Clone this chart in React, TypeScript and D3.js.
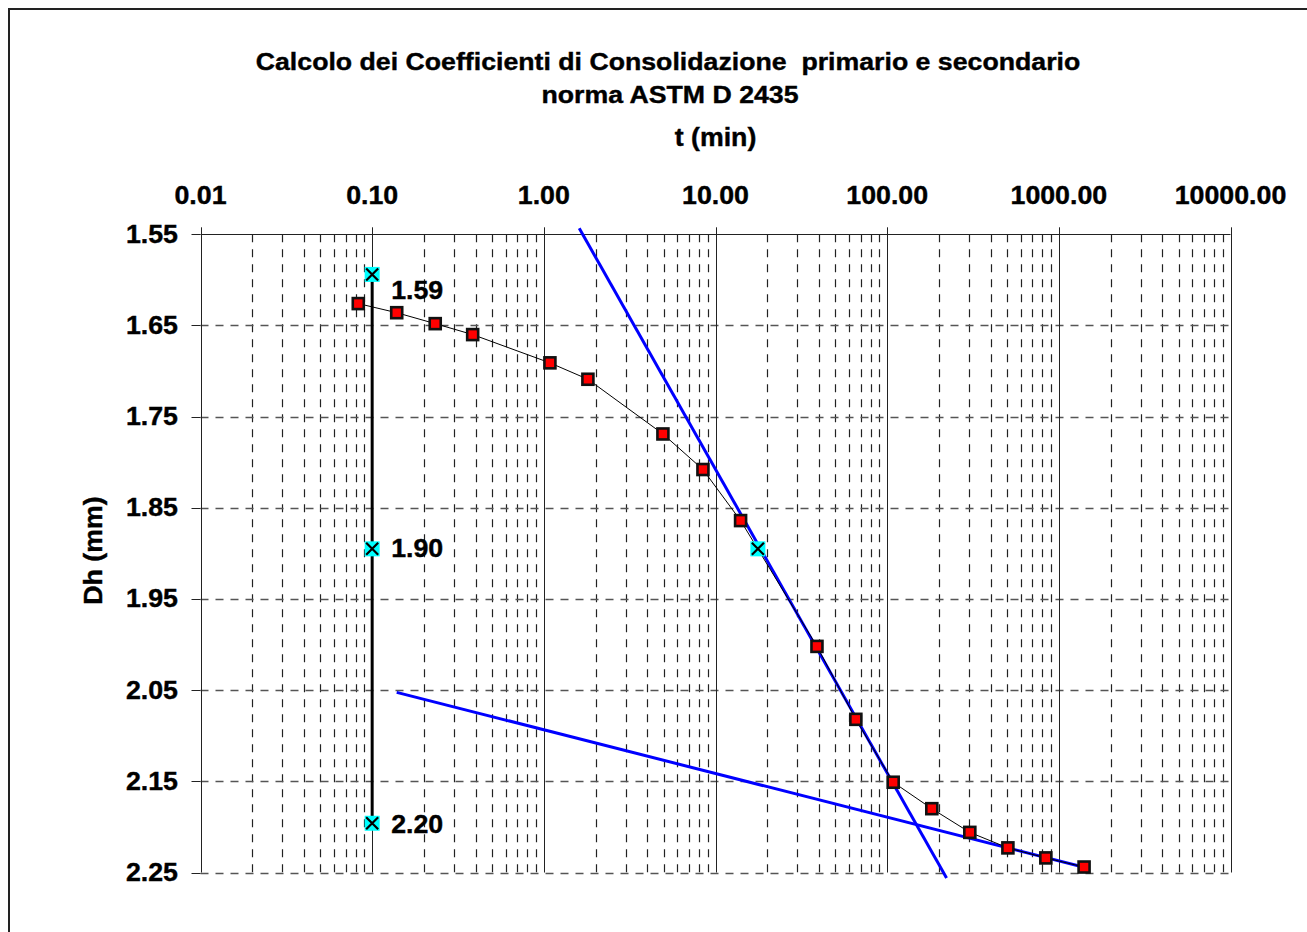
import { useEffect, useRef } from "react";
import * as d3 from "d3";

// elapsed time (min) and settlement Dh (mm)
const timeMin = [0.083, 0.139, 0.233, 0.385, 1.085, 1.806, 4.94, 8.45, 14.0, 39.0, 65.7, 108.4, 182, 303, 505, 840, 1403];
const dhMm = [1.626, 1.636, 1.648, 1.66, 1.691, 1.709, 1.769, 1.808, 1.864, 2.002, 2.082, 2.151, 2.18, 2.206, 2.223, 2.234, 2.244];

// Casagrande construction points: D0, D50, D100 at t = 0.1, and t50
const casaTime = [0.1, 0.1, 0.1, 17.66];
const casaDh = [1.594, 1.895, 2.196, 1.895];
const casaLabels = ["1.59", "1.90", "2.20"];

// tangent lines (primary and secondary consolidation)
const primaryT = [1.608, 221.8];
const primaryD = [1.5434, 2.256];
const secondaryT = [0.139, 1403];
const secondaryD = [2.0524, 2.2443];

const xTicks = [0.01, 0.1, 1, 10, 100, 1000, 10000];
const yTicks = [1.55, 1.65, 1.75, 1.85, 1.95, 2.05, 2.15, 2.25];

const W = 1307;
const H = 932;
const FONT = "Arial, 'Liberation Sans', sans-serif";
const STRETCH = 1.07;

const App: React.FC = () => {
  const ref = useRef<SVGSVGElement>(null);

  useEffect(() => {
    if (!ref.current) return;
    const svg = d3.select(ref.current);
    svg.selectAll("*").remove();

    const x = d3.scaleLog().domain([0.01, 10000]).range([200.5, 1230.5]);
    const y = d3.scaleLinear().domain([1.55, 2.25]).range([234.3, 872.5]);
    const [x0, x1] = x.range();
    const [y0, y1] = y.range();

    const label = (
      tx: number,
      ty: number,
      txt: string,
      anchor: string,
      size = 25,
      rotate = 0,
      stretch = STRETCH
    ) =>
      svg
        .append("text")
        .attr("transform", `translate(${tx},${ty}) rotate(${rotate}) scale(${stretch},1)`)
        .attr("text-anchor", anchor)
        .style("font-family", FONT)
        .style("font-size", size + "px")
        .style("font-weight", "bold")
        .style("white-space", "pre")
        .attr("fill", "#000")
        .attr("stroke", "#000")
        .attr("stroke-width", 0.4)
        .text(txt);

    // outer frame
    svg
      .append("rect")
      .attr("x", 9)
      .attr("y", 9)
      .attr("width", W + 20)
      .attr("height", H + 20)
      .attr("fill", "#fff")
      .attr("stroke", "#222")
      .attr("stroke-width", 2);

    // minor vertical grid (2..9 of each decade)
    const minor: number[] = [];
    xTicks.slice(0, -1).forEach((d) => {
      for (let k = 2; k <= 9; k++) minor.push(d * k);
    });
    svg
      .append("g")
      .selectAll("line")
      .data(minor)
      .enter()
      .append("line")
      .attr("x1", (d) => Math.round(x(d)) + 0.5)
      .attr("x2", (d) => Math.round(x(d)) + 0.5)
      .attr("y1", y0)
      .attr("y2", y1)
      .attr("stroke", "#222")
      .attr("stroke-width", 1.2)
      .attr("stroke-dasharray", "8,7");

    // horizontal grid
    svg
      .append("g")
      .selectAll("line")
      .data(yTicks.slice(1))
      .enter()
      .append("line")
      .attr("x1", x0)
      .attr("x2", x1)
      .attr("y1", (d) => Math.round(y(d)) + 0.5)
      .attr("y2", (d) => Math.round(y(d)) + 0.5)
      .attr("stroke", "#555")
      .attr("stroke-width", 1.5)
      .attr("stroke-dasharray", "8,7");

    // major vertical grid + ticks above
    svg
      .append("g")
      .selectAll("line")
      .data(xTicks)
      .enter()
      .append("line")
      .attr("x1", (d) => Math.round(x(d)) + 0.5)
      .attr("x2", (d) => Math.round(x(d)) + 0.5)
      .attr("y1", y0 - 7)
      .attr("y2", y1)
      .attr("stroke", "#222");

    // y ticks to the left
    svg
      .append("g")
      .selectAll("line")
      .data(yTicks)
      .enter()
      .append("line")
      .attr("x1", x0 - 9)
      .attr("x2", x0)
      .attr("y1", (d) => Math.round(y(d)) + 0.5)
      .attr("y2", (d) => Math.round(y(d)) + 0.5)
      .attr("stroke", "#222");

    // top axis line
    svg
      .append("line")
      .attr("x1", x0)
      .attr("x2", x1)
      .attr("y1", Math.round(y0) + 0.5)
      .attr("y2", Math.round(y0) + 0.5)
      .attr("stroke", "#222");

    // tick labels
    xTicks.forEach((d) => label(x(d), 203.5, d.toFixed(2), "middle"));
    yTicks.forEach((d) => label(178, y(d) + 8.5, d.toFixed(2), "end"));

    // titles
    label(668, 70, "Calcolo dei Coefficienti di Consolidazione  primario e secondario", "middle", 24.5, 0, 1.09);
    label(670, 103, "norma ASTM D 2435", "middle", 24.5, 0, 1.09);
    label((x0 + x1) / 2, 146, "t (min)", "middle", 25);
    label(101.5, 550.5, "Dh (mm)", "middle", 25, -90);

    // tangent lines
    const tLine = d3
      .line<[number, number]>()
      .x((d) => x(d[0]))
      .y((d) => y(d[1]));
    [
      [primaryT, primaryD],
      [secondaryT, secondaryD],
    ].forEach(([ts, ds]) => {
      svg
        .append("path")
        .attr("d", tLine(ts.map((t, i) => [t, ds[i]] as [number, number])))
        .attr("fill", "none")
        .attr("stroke", "#0000ff")
        .attr("stroke-width", 3);
    });

    // D0 - D100 vertical
    svg
      .append("line")
      .attr("x1", x(casaTime[0]))
      .attr("x2", x(casaTime[2]))
      .attr("y1", y(casaDh[0]))
      .attr("y2", y(casaDh[2]))
      .attr("stroke", "#000")
      .attr("stroke-width", 3);

    // consolidation curve
    const pts = timeMin.map((t, i) => [t, dhMm[i]] as [number, number]);
    svg
      .append("path")
      .attr("d", tLine(pts))
      .attr("fill", "none")
      .attr("stroke", "#000")
      .attr("stroke-width", 1);

    svg
      .append("g")
      .selectAll("rect")
      .data(pts)
      .enter()
      .append("rect")
      .attr("x", (d) => x(d[0]) - 5.5)
      .attr("y", (d) => y(d[1]) - 5.5)
      .attr("width", 11)
      .attr("height", 11)
      .attr("fill", "#ff0000")
      .attr("stroke", "#111")
      .attr("stroke-width", 2.6);

    // cyan X markers
    const casa = svg
      .append("g")
      .selectAll("g")
      .data(casaTime.map((t, i) => [t, casaDh[i]] as [number, number]))
      .enter()
      .append("g")
      .attr("transform", (d) => `translate(${x(d[0])},${y(d[1])})`);
    casa
      .append("rect")
      .attr("x", -7.5)
      .attr("y", -7.5)
      .attr("width", 15)
      .attr("height", 15)
      .attr("fill", "#00ffff");
    casa
      .append("path")
      .attr("d", "M-6,-6L6,6M-6,6L6,-6")
      .attr("stroke", "#000")
      .attr("stroke-width", 2.2);

    const labelDy = [25, 8.5, 9.5];
    casaLabels.forEach((txt, i) =>
      label(x(casaTime[i]) + 19, y(casaDh[i]) + labelDy[i], txt, "start")
    );
  }, []);

  return (
    <svg
      ref={ref}
      width={W}
      height={H}
      style={{ position: "absolute", left: 0, top: 0, display: "block" }}
    />
  );
};

export default App;
